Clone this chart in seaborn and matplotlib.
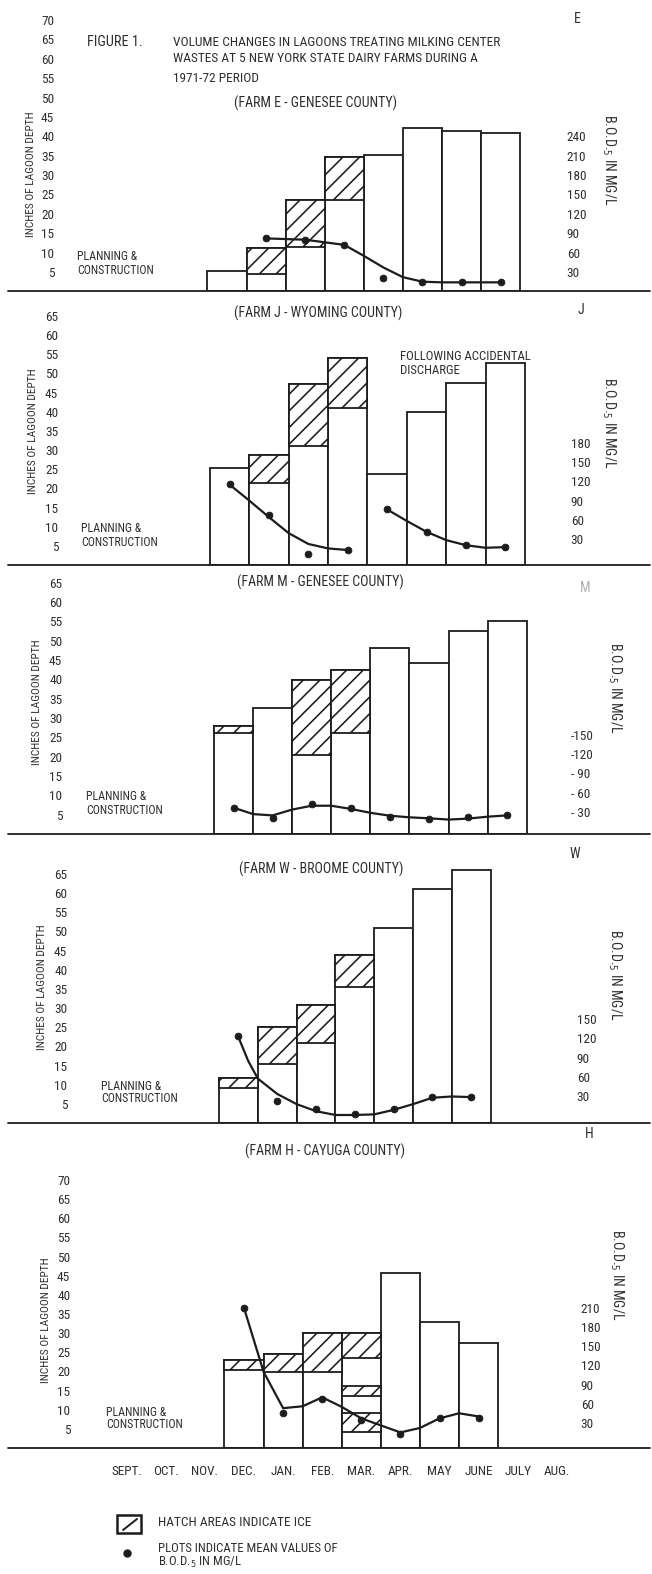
import matplotlib
matplotlib.use("Agg")
import matplotlib.pyplot as plt
from matplotlib import font_manager as fm
from matplotlib.patches import Rectangle
from matplotlib.lines import Line2D
import pandas as pd
import seaborn as sns

# ---------------------------------------------------------------- data
MONTHS = ["SEPT.", "OCT.", "NOV.", "DEC.", "JAN.", "FEB.", "MAR.",
          "APR.", "MAY", "JUNE", "JULY", "AUG."]

# Farm E - Genesee County
e_months = ["DEC.", "JAN.", "FEB.", "MAR.", "APR.", "MAY", "JUNE", "JULY"]
e_depth = [5.3, 11.1, 23.6, 34.7, 35.2, 42.1, 41.4, 40.9]
e_ice = [[], [(4.4, 11.1)], [(11.5, 23.6)], [(23.6, 34.7)], [], [], [], []]
e_bod_months = ["JAN.", "FEB.", "MAR.", "APR.", "MAY", "JUNE", "JULY"]
e_bod = [82, 80, 72, 20, 14, 14, 14]
e_trend_at = [4.0, 4.5, 5.0, 5.5, 6.0, 6.5, 7.0, 7.5, 8.0, 8.5, 9.0, 9.5, 10.0]
e_trend = [82, 81, 80, 76, 72, 55, 37, 22, 15, 14, 14, 14, 14]

# Farm J - Wyoming County
j_months = ["DEC.", "JAN.", "FEB.", "MAR.", "APR.", "MAY", "JUNE", "JULY"]
j_depth = [25.2, 28.7, 47.2, 54.0, 23.7, 40.0, 47.5, 52.7]
j_ice = [[], [(21.3, 28.7)], [(31.0, 47.2)], [(41.0, 54.0)], [], [], [], []]
j_bod_months = j_months
j_bod = [116, 67, 7, 12, 76, 41, 20, 17]
j_trend_before_at = [3.0, 3.5, 4.0, 4.5, 5.0, 5.5, 6.0]
j_trend_before = [115, 90, 64, 39, 22, 15, 12.5]
j_trend_after_at = [7.0, 7.5, 8.0, 8.5, 9.0, 9.5, 10.0]
j_trend_after = [76, 58, 41, 28, 20, 16, 17]

# Farm M - Genesee County
m_months = ["DEC.", "JAN.", "FEB.", "MAR.", "APR.", "MAY", "JUNE", "JULY"]
m_depth = [28.0, 32.7, 39.7, 42.5, 48.0, 44.3, 52.6, 55.2]
m_ice = [[(26.2, 28.0)], [], [(20.5, 39.7)], [(26.2, 42.5)], [], [], [], []]
m_bod_months = m_months
m_bod = [37, 21, 43, 37, 23, 19.5, 23, 26]
m_trend_at = [3.0, 3.5, 4.0, 4.5, 5.0, 5.5, 6.0, 6.5, 7.0, 7.5, 8.0, 8.5, 9.0, 9.5, 10.0]
m_trend = [37, 27, 25, 34, 40, 40, 35, 29, 24.5, 22, 20.5, 18.5, 20, 23, 25]

# Farm W - Broome County
w_months = ["DEC.", "JAN.", "FEB.", "MAR.", "APR.", "MAY", "JUNE"]
w_depth = [11.8, 25.0, 30.7, 43.8, 50.9, 61.1, 66.0]
w_ice = [[(9.2, 11.8)], [(15.3, 25.0)], [(20.8, 30.7)], [(35.5, 43.8)], [], [], []]
w_bod_months = w_months
w_bod = [123, 22.6, 9.5, 1, 9.5, 28, 28]
w_trend_at = [3.0, 3.25, 3.5, 4.0, 4.5, 5.0, 5.5, 6.0, 6.5, 7.0, 7.5, 8.0, 8.5, 9.0]
w_trend = [122, 85, 57, 33, 17, 6, 0, 0, 1, 8, 17, 27, 29, 28]

# Farm H - Cayuga County
h_months = ["DEC.", "JAN.", "FEB.", "MAR.", "APR.", "MAY", "JUNE"]
h_depth = [23.0, 24.5, 29.9, 30.1, 45.7, 32.9, 27.4]
h_ice = [[(20.4, 23.0)], [(19.9, 24.5)], [(19.9, 29.9)],
         [(4.3, 9.1), (13.7, 16.3), (23.6, 30.1)], [], [], []]
h_bod_months = h_months
h_bod = [210, 45, 68, 34, 12.5, 37.5, 37.5]
h_trend_at = [3.0, 3.5, 4.0, 4.5, 5.0, 5.5, 6.0, 6.5, 7.0, 7.5, 8.0, 8.5, 9.0]
h_trend = [210, 110, 53, 56, 70, 55, 37, 26, 15, 22, 37, 45, 40]

DEPTH_TICKS_70 = list(range(5, 75, 5))
DEPTH_TICKS_65 = list(range(5, 70, 5))

# ---------------------------------------------------------------- style
W, H, DPI = 652, 1574, 100
BOD_PER_INCH = 6          # right-hand scale: 30 mg/L per 5 inches
YTOP = 72
INK = "#1c1c1c"
TXT = "#2e2e2e"
TICK_FS = 9.5

sns.set_theme(style="white")
_avail = {f.name for f in fm.fontManager.ttflist}
FAMILY = next((n for n in ("Liberation Sans Narrow", "Roboto Condensed", "DejaVu Sans")
               if n in _avail), "DejaVu Sans")
plt.rcParams["font.family"] = [FAMILY, "DejaVu Sans"]
plt.rcParams["font.stretch"] = "condensed"
plt.rcParams["hatch.linewidth"] = 1.15
plt.rcParams["hatch.color"] = INK
plt.rcParams["text.color"] = TXT

fig = plt.figure(figsize=(W / DPI, H / DPI), dpi=DPI)
fig.patch.set_facecolor("white")


def ftext(x, y, s, **kw):
    """Place text using pixel coordinates measured from the top-left corner."""
    kw.setdefault("color", TXT)
    return fig.text(x / W, 1 - y / H, s, **kw)


def draw_panel(geom, months, depth, ice, bod_months, bod, trends,
               lticks, rticks, rlabels, month_axis=False):
    y0, ppu, left, right, px0, step, roff = geom
    ax = fig.add_axes([left / W, 1 - y0 / H, (right - left) / W, YTOP * ppu / H])
    ax.patch.set_visible(False)

    df = pd.DataFrame({"month": months, "depth": depth})
    sns.barplot(data=df, x="month", y="depth", order=MONTHS, color="white",
                saturation=1, width=1.0, edgecolor=INK, linewidth=1.3,
                errorbar=None, ax=ax)
    for m, layers in zip(months, ice):
        for lo, hi in layers:
            ax.bar(MONTHS.index(m), hi - lo, bottom=lo, width=1.0,
                   facecolor="white", edgecolor=INK, hatch="//", linewidth=1.3)

    ax.set_ylim(0, YTOP)
    ax.set_yticks(lticks)
    ax.set_yticklabels([str(t) for t in lticks])
    ax.tick_params(axis="y", length=0, pad=2.0, labelsize=TICK_FS, labelcolor=TXT)
    if month_axis:
        ax.set_xticks(range(len(MONTHS)))
        ax.set_xticklabels(MONTHS)
        ax.tick_params(axis="x", length=0, pad=12.5, labelsize=TICK_FS, labelcolor=TXT)
    else:
        ax.set_xticks([])
    ax.set_xlabel("")
    ax.set_ylabel("")
    for s in ax.spines.values():
        s.set_visible(False)

    ax2 = ax.twinx()
    off = roff / ppu * BOD_PER_INCH
    for at, vals in trends:
        sns.lineplot(x=at, y=vals, ax=ax2, color=INK, linewidth=1.6,
                     sort=False, estimator=None)
    pos = [MONTHS.index(m) for m in bod_months]
    sns.scatterplot(x=pos, y=bod, ax=ax2, color=INK, s=24, edgecolor=INK,
                    linewidth=0.6, zorder=5, clip_on=False)
    ax2.set_ylim(-off, YTOP * BOD_PER_INCH - off)
    ax2.set_yticks(rticks)
    ax2.set_yticklabels(rlabels)
    ax2.tick_params(axis="y", length=0, pad=2.0, labelsize=TICK_FS, labelcolor=TXT)
    ax2.set_ylabel("")
    for s in ax2.spines.values():
        s.set_visible(False)

    ax.set_xlim((left - px0) / step, (right - px0) / step)
    span = right - left
    ax.axhline(0, xmin=(8 - left) / span, xmax=(650 - left) / span,
               color=INK, linewidth=1.3, clip_on=False, zorder=6)
    return ax, ax2


# panel geometry: baseline y, px per inch, left, right, x of SEPT., px per month, right-scale shift
G_E = (291.4, 3.877, 57, 564, 109.7, 39.1, 0.0)
G_J = (565.0, 3.833, 61, 568, 111.3, 39.4, 7.0)
G_M = (834.0, 3.867, 65, 568, 116.2, 39.1, 2.5)
G_W = (1123.0, 3.833, 70, 574, 122.0, 38.8, 8.0)
G_H = (1448.0, 3.830, 73, 578, 126.7, 39.1, 6.0)

draw_panel(G_E, e_months, e_depth, e_ice, e_bod_months, e_bod,
           [(e_trend_at, e_trend)], DEPTH_TICKS_70,
           list(range(30, 270, 30)), [str(v) for v in range(30, 270, 30)])
draw_panel(G_J, j_months, j_depth, j_ice, j_bod_months, j_bod,
           [(j_trend_before_at, j_trend_before), (j_trend_after_at, j_trend_after)],
           DEPTH_TICKS_65,
           list(range(30, 210, 30)), [str(v) for v in range(30, 210, 30)])
draw_panel(G_M, m_months, m_depth, m_ice, m_bod_months, m_bod,
           [(m_trend_at, m_trend)], DEPTH_TICKS_65,
           list(range(30, 180, 30)), ["-" + ("" if v >= 100 else " ") + str(v)
                                      for v in range(30, 180, 30)])
draw_panel(G_W, w_months, w_depth, w_ice, w_bod_months, w_bod,
           [(w_trend_at, w_trend)], DEPTH_TICKS_65,
           list(range(30, 180, 30)), [str(v) for v in range(30, 180, 30)])
draw_panel(G_H, h_months, h_depth, h_ice, h_bod_months, h_bod,
           [(h_trend_at, h_trend)], DEPTH_TICKS_70,
           list(range(30, 240, 30)), [str(v) for v in range(30, 240, 30)],
           month_axis=True)

# ---------------------------------------------------------------- text
ftext(87, 42, "FIGURE 1.", fontsize=10.3, va="center", ha="left")
ftext(173, 42, "VOLUME CHANGES IN LAGOONS TREATING MILKING CENTER",
      fontsize=9.6, va="center", ha="left")
ftext(173, 59, "WASTES AT 5 NEW YORK STATE DAIRY FARMS DURING A",
      fontsize=9.6, va="center", ha="left")
ftext(173, 78, "1971-72 PERIOD", fontsize=9.6, va="center", ha="left")

FARMS = [
    ("(FARM E - GENESEE COUNTY)", 315, 103, "E", 577, 19, TXT,
     (31, 174), (609, 160), (77, 257)),
    ("(FARM J - WYOMING COUNTY)", 318, 313, "J", 581, 310, TXT,
     (33, 431), (609, 423), (81, 529)),
    ("(FARM M - GENESEE COUNTY)", 320, 582, "M", 585, 588, "#b0b0b0",
     (37, 702), (615, 688), (86, 797)),
    ("(FARM W - BROOME COUNTY)", 321, 869, "W", 575, 854, TXT,
     (42, 987), (615, 975), (101, 1086)),
    ("(FARM H - CAYUGA COUNTY)", 325, 1151, "H", 589, 1134, TXT,
     (46, 1320), (617, 1275), (106, 1412)),
]
for name, nx, ny, tag, tx, ty, tcol, lpos, rpos, ppos in FARMS:
    ftext(nx, ny, name, fontsize=10, ha="center", va="center")
    ftext(tx, ty, tag, fontsize=10, ha="center", va="center", color=tcol)
    ftext(lpos[0], lpos[1], "INCHES OF LAGOON DEPTH", fontsize=8.2,
          rotation=90, ha="center", va="center")
    ftext(rpos[0], rpos[1], "B.O.D.$_5$ IN MG/L", fontsize=10,
          rotation=270, ha="center", va="center")
    ftext(ppos[0], ppos[1], "PLANNING &", fontsize=8.6, ha="left", va="center")
    ftext(ppos[0], ppos[1] + 13, "CONSTRUCTION", fontsize=8.6, ha="left", va="center")

ftext(400, 357, "FOLLOWING ACCIDENTAL", fontsize=9.2, ha="left", va="center")
ftext(400, 371, "DISCHARGE", fontsize=9.2, ha="left", va="center")

# key
fig.add_artist(Rectangle((117 / W, 1 - 1533 / H), 24 / W, 18 / H,
                         transform=fig.transFigure, facecolor="white",
                         edgecolor=INK, linewidth=1.8))
fig.add_artist(Line2D([123 / W, 137 / W], [1 - 1530 / H, 1 - 1519 / H],
                      transform=fig.transFigure, color=INK, linewidth=1.4))
ftext(158, 1523, "HATCH AREAS INDICATE ICE", fontsize=9.6, ha="left", va="center")
fig.add_artist(Line2D([127 / W], [1 - 1553 / H], transform=fig.transFigure,
                      marker="o", markersize=5, color=INK, linestyle="none"))
ftext(158, 1548, "PLOTS INDICATE MEAN VALUES OF", fontsize=9.2, ha="left", va="center")
ftext(158, 1562, "B.O.D.$_5$ IN MG/L", fontsize=9.2, ha="left", va="center")

fig.savefig("out.png", dpi=DPI, facecolor="white")
